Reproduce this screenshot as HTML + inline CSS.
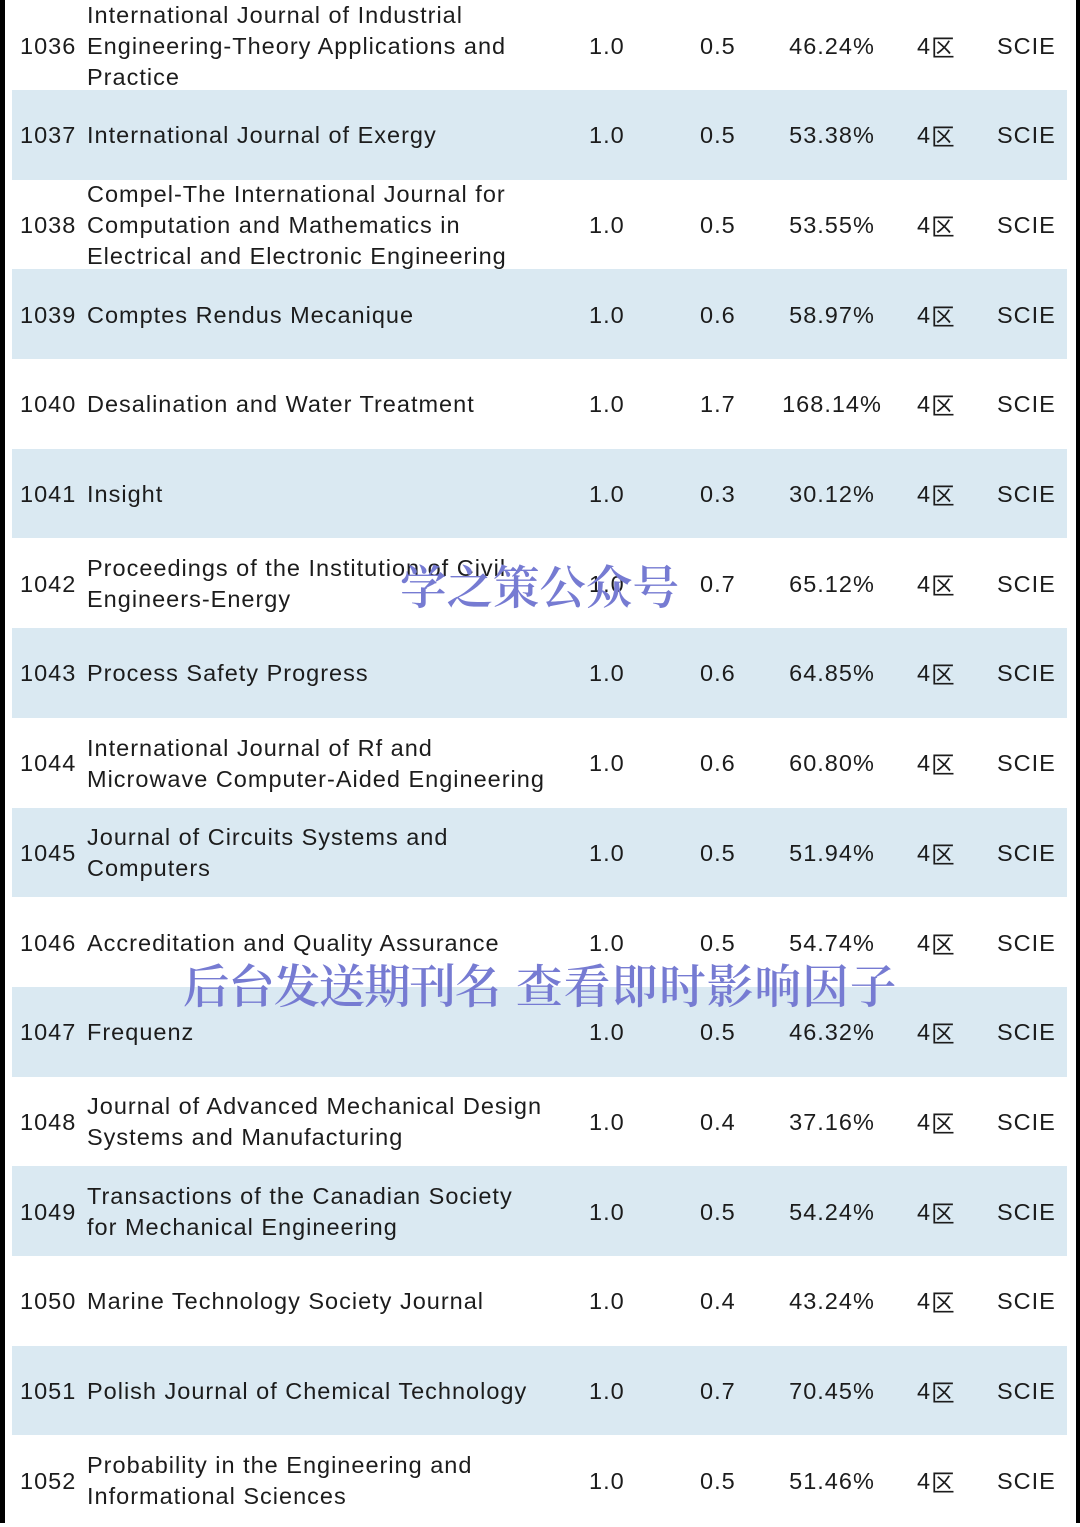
<!DOCTYPE html>
<html>
<head>
<meta charset="utf-8">
<style>
  html,body{margin:0;padding:0;background:#fff;}
  body{width:1080px;height:1527px;position:relative;overflow:hidden;
       font-family:"Liberation Sans","Noto Sans CJK SC",Arial,sans-serif;color:#1c1c1c;}
  .bar{position:absolute;top:0;height:1523px;background:#000;}
  .row{position:absolute;left:0;width:1080px;height:89.69px;}
  .row.b .bg{position:absolute;left:12px;right:13px;top:0;bottom:0;background:#dae9f2;}
  .c{position:absolute;top:1px;height:100%;display:flex;align-items:center;
     font-size:23.5px;letter-spacing:1px;line-height:31px;white-space:nowrap;}
  .num{left:20px;}
  .t{left:87px;}
  .v1{left:589px;}
  .v2{left:700px;}
  .p{left:762px;width:140px;justify-content:center;}
  .q{left:917px;}
  .q span{font-family:"Noto Sans CJK SC",sans-serif;font-weight:400;letter-spacing:0;}
  .s{left:997px;}
  .wm{position:absolute;font-family:"Noto Serif CJK SC","Noto Sans CJK SC",serif;font-weight:600;
      color:#767bd2;font-size:46.5px;line-height:46.5px;white-space:nowrap;}
</style>
</head>
<body>
<div class="bar" style="left:0;width:5px;"></div>
<div class="bar" style="left:1076px;width:4px;"></div>

<div class="row" style="top:0.3px"><div class="c num">1036</div><div class="c t">International Journal of Industrial<br>Engineering-Theory Applications and<br>Practice</div><div class="c v1">1.0</div><div class="c v2">0.5</div><div class="c p">46.24%</div><div class="c q">4<span>区</span></div><div class="c s">SCIE</div></div>

<div class="row b" style="top:89.99px"><div class="bg"></div><div class="c num">1037</div><div class="c t">International Journal of Exergy</div><div class="c v1">1.0</div><div class="c v2">0.5</div><div class="c p">53.38%</div><div class="c q">4<span>区</span></div><div class="c s">SCIE</div></div>

<div class="row" style="top:179.68px"><div class="c num">1038</div><div class="c t">Compel-The International Journal for<br>Computation and Mathematics in<br>Electrical and Electronic Engineering</div><div class="c v1">1.0</div><div class="c v2">0.5</div><div class="c p">53.55%</div><div class="c q">4<span>区</span></div><div class="c s">SCIE</div></div>

<div class="row b" style="top:269.37px"><div class="bg"></div><div class="c num">1039</div><div class="c t">Comptes Rendus Mecanique</div><div class="c v1">1.0</div><div class="c v2">0.6</div><div class="c p">58.97%</div><div class="c q">4<span>区</span></div><div class="c s">SCIE</div></div>

<div class="row" style="top:359.06px"><div class="c num">1040</div><div class="c t">Desalination and Water Treatment</div><div class="c v1">1.0</div><div class="c v2">1.7</div><div class="c p">168.14%</div><div class="c q">4<span>区</span></div><div class="c s">SCIE</div></div>

<div class="row b" style="top:448.75px"><div class="bg"></div><div class="c num">1041</div><div class="c t">Insight</div><div class="c v1">1.0</div><div class="c v2">0.3</div><div class="c p">30.12%</div><div class="c q">4<span>区</span></div><div class="c s">SCIE</div></div>

<div class="row" style="top:538.44px"><div class="c num">1042</div><div class="c t">Proceedings of the Institution of Civil<br>Engineers-Energy</div><div class="c v1">1.0</div><div class="c v2">0.7</div><div class="c p">65.12%</div><div class="c q">4<span>区</span></div><div class="c s">SCIE</div></div>

<div class="row b" style="top:628.13px"><div class="bg"></div><div class="c num">1043</div><div class="c t">Process Safety Progress</div><div class="c v1">1.0</div><div class="c v2">0.6</div><div class="c p">64.85%</div><div class="c q">4<span>区</span></div><div class="c s">SCIE</div></div>

<div class="row" style="top:717.82px"><div class="c num">1044</div><div class="c t">International Journal of Rf and<br>Microwave Computer-Aided Engineering</div><div class="c v1">1.0</div><div class="c v2">0.6</div><div class="c p">60.80%</div><div class="c q">4<span>区</span></div><div class="c s">SCIE</div></div>

<div class="row b" style="top:807.51px"><div class="bg"></div><div class="c num">1045</div><div class="c t">Journal of Circuits Systems and<br>Computers</div><div class="c v1">1.0</div><div class="c v2">0.5</div><div class="c p">51.94%</div><div class="c q">4<span>区</span></div><div class="c s">SCIE</div></div>

<div class="row" style="top:897.2px"><div class="c num">1046</div><div class="c t">Accreditation and Quality Assurance</div><div class="c v1">1.0</div><div class="c v2">0.5</div><div class="c p">54.74%</div><div class="c q">4<span>区</span></div><div class="c s">SCIE</div></div>

<div class="row b" style="top:986.89px"><div class="bg"></div><div class="c num">1047</div><div class="c t">Frequenz</div><div class="c v1">1.0</div><div class="c v2">0.5</div><div class="c p">46.32%</div><div class="c q">4<span>区</span></div><div class="c s">SCIE</div></div>

<div class="row" style="top:1076.58px"><div class="c num">1048</div><div class="c t">Journal of Advanced Mechanical Design<br>Systems and Manufacturing</div><div class="c v1">1.0</div><div class="c v2">0.4</div><div class="c p">37.16%</div><div class="c q">4<span>区</span></div><div class="c s">SCIE</div></div>

<div class="row b" style="top:1166.27px"><div class="bg"></div><div class="c num">1049</div><div class="c t">Transactions of the Canadian Society<br>for Mechanical Engineering</div><div class="c v1">1.0</div><div class="c v2">0.5</div><div class="c p">54.24%</div><div class="c q">4<span>区</span></div><div class="c s">SCIE</div></div>

<div class="row" style="top:1255.96px"><div class="c num">1050</div><div class="c t">Marine Technology Society Journal</div><div class="c v1">1.0</div><div class="c v2">0.4</div><div class="c p">43.24%</div><div class="c q">4<span>区</span></div><div class="c s">SCIE</div></div>

<div class="row b" style="top:1345.65px"><div class="bg"></div><div class="c num">1051</div><div class="c t">Polish Journal of Chemical Technology</div><div class="c v1">1.0</div><div class="c v2">0.7</div><div class="c p">70.45%</div><div class="c q">4<span>区</span></div><div class="c s">SCIE</div></div>

<div class="row" style="top:1435.34px"><div class="c num">1052</div><div class="c t">Probability in the Engineering and<br>Informational Sciences</div><div class="c v1">1.0</div><div class="c v2">0.5</div><div class="c p">51.46%</div><div class="c q">4<span>区</span></div><div class="c s">SCIE</div></div>

<div class="wm" style="left:400px;top:562px;">学之策公众号</div>
<div class="wm" style="left:183px;top:961px;letter-spacing:-1.2px;">后台发送期刊名</div>
<div class="wm" style="left:516px;top:961px;letter-spacing:1.2px;">查看即时影响因子</div>
</body>
</html>
